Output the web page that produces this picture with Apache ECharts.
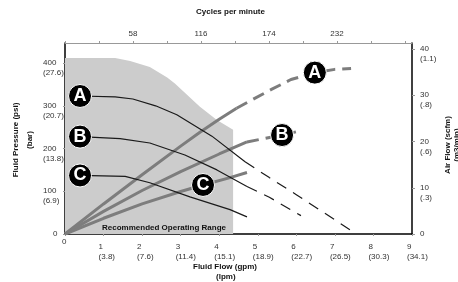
<!DOCTYPE html>
<html><head><meta charset="utf-8">
<script src="https://cdn.jsdelivr.net/npm/echarts@6/dist/echarts.min.js"></script>
<style>html,body{margin:0;padding:0;background:#fff}#c{width:458px;height:282px}</style>
</head><body><div id="c"></div>
<script>
// ---- data ----
const gpmTicks = [0,1,2,3,4,5,6,7,8,9];
const lpmLabels = ['', '(3.8)','(7.6)','(11.4)','(15.1)','(18.9)','(22.7)','(26.5)','(30.3)','(34.1)'];
const psiTicks = [0,100,200,300,400];
const barLabels = ['', '(6.9)','(13.8)','(20.7)','(27.6)'];
const scfmTicks = [0,10,20,30,40];
const m3Labels = ['', '(.3)','(.6)','(.8)','(1.1)'];
const cycleLabels = [58,116,174,232];

// Recommended operating range (gpm, psi)
const rangeArea = [[0,412],[1.30,412],[1.69,405],[2.20,391],[2.65,366],[2.85,352],[3.50,298],[3.94,267],[4.36,244],[4.36,0]];

// Fluid pressure curves (gpm, psi)
const pressA = [[0.39,323],[1.30,321],[1.76,316],[2.35,300],[2.90,279],[3.81,229],[4.67,169]];
const pressAdash = [[4.67,169],[5.3,132],[6.0,92],[6.8,45],[7.55,0]];
const pressB = [[0.39,228],[1.43,223],[2.20,213],[3.11,185],[3.94,150],[4.72,111]];
const pressBdash = [[4.72,111],[5.3,86],[6.12,43]];
const pressC = [[0.39,137],[1.56,135],[2.20,120],[3.24,87],[4.28,57],[4.72,40]];

// Air flow curves (gpm, scfm)
const airA = [[0,0],[1,6.5],[2,12.8],[3,19.0],[3.5,22.0],[4,24.8],[4.45,27.2]];
const airAdash = [[4.45,27.2],[5.34,31.2],[5.86,33.4],[6.48,34.9],[7.0,35.6],[7.42,35.8]];
const airB = [[0,0],[1,4.9],[2,9.4],[3,13.5],[4,17.3],[4.72,19.9]];
const airBdash = [[4.72,19.9],[5.2,20.7],[5.63,21.4],[6.05,22.2]];
const airC = [[0,0],[1,3.4],[2,6.5],[3,9.2],[3.58,10.6],[4.28,12.2],[4.72,13.3]];

// curve badges
const pressMarkers = [[0.39,323,'A'],[0.39,228,'B'],[0.39,137,'C']];
const airMarkers = [[6.48,34.9,'A'],[5.63,21.4,'B'],[3.58,10.6,'C']];

// ---- chart ----
const F = 'Liberation Sans, Arial, sans-serif';
const chart = echarts.init(document.getElementById('c'), null, {renderer:'canvas'});
const blk = '#1a1a1a', gry = '#7d7d7d';
function line(data, y, color, width, dash, z){
  return {type:'line', xAxisIndex:0, yAxisIndex:y, data:data, showSymbol:false, symbol:'none',
    silent:true, z:z, lineStyle:{color:color, width:width, type:dash||'solid', cap:'butt'}};
}
function badges(data, y){
  return {type:'scatter', xAxisIndex:0, yAxisIndex:y, z:10, symbol:'circle', symbolSize:23, silent:true,
    data:data.map(d=>({value:[d[0],d[1]], name:d[2]})),
    itemStyle:{color:'#000', opacity:1, borderColor:'#fff', borderWidth:1},
    label:{show:true, position:'inside', formatter:p=>p.name, color:'#fff', fontFamily:F, fontWeight:'bold', fontSize:18}};
}
const option = {
  animation:false,
  grid:{left:65, right:46, top:43, bottom:48},
  textStyle:{fontFamily:F},
  xAxis:[
    {type:'value', position:'bottom', min:0, max:9, interval:1,
     axisLine:{onZero:false, lineStyle:{color:'#000', width:1.5}},
     axisTick:{show:true, length:2, lineStyle:{color:'#999'}},
     splitLine:{show:false},
     axisLabel:{margin:8, align:'left', color:'#333', fontSize:8, fontFamily:F, lineHeight:10, padding:[0,0,0,-5],
       formatter:v=>{const i=gpmTicks.indexOf(v); if(i<=0) return '{z|0}'; return v+'\n'+lpmLabels[i];},
       rich:{z:{fontSize:8, fontFamily:F, color:'#333', padding:[0,0,10,2]}}}},
    {type:'value', position:'top', min:0, max:296, interval:29,
     axisLine:{onZero:false, lineStyle:{color:'#999', width:1}},
     axisTick:{show:true, length:2, lineStyle:{color:'#999'}},
     splitLine:{show:false},
     axisLabel:{margin:5, color:'#333', fontSize:8, fontFamily:F, showMaxLabel:false,
       formatter:v=>cycleLabels.indexOf(v)>=0 ? String(v) : ''}}
  ],
  yAxis:[
    {type:'value', position:'left', min:0, max:447, interval:100,
     axisLine:{show:true, onZero:false, lineStyle:{color:'#000', width:1.5}},
     axisTick:{show:true, length:2, lineStyle:{color:'#999'}},
     splitLine:{show:false},
     axisLabel:{margin:22, align:'left', color:'#333', fontSize:8, fontFamily:F, lineHeight:10, showMaxLabel:false,
       formatter:v=>{const i=psiTicks.indexOf(v); if(i<0) return ''; if(i===0) return '{z|0}'; return '\n'+v+'\n'+barLabels[i];},
       rich:{z:{fontSize:8, fontFamily:F, color:'#333', padding:[0,0,0,10]}}}},
    {type:'value', position:'right', min:0, max:41.3, interval:10,
     axisLine:{show:true, onZero:false, lineStyle:{color:'#000', width:1.5}},
     axisTick:{show:true, length:3, lineStyle:{color:'#999'}},
     splitLine:{show:false},
     axisLabel:{margin:8, color:'#333', fontSize:8, fontFamily:F, lineHeight:10, showMaxLabel:false,
       formatter:v=>{const i=scfmTicks.indexOf(v); if(i<0) return ''; if(i===0) return '0'; return '\n'+v+'\n'+m3Labels[i];}}}
  ],
  graphic:[
    {type:'text', left:196, top:8, z:20, style:{text:'Cycles per minute', font:'bold 8px '+F, fill:'#111'}},
    {type:'text', left:193, top:263, z:20, style:{text:'Fluid Flow (gpm)', font:'bold 8px '+F, fill:'#111'}},
    {type:'text', left:216, top:273, z:20, style:{text:'(lpm)', font:'bold 8px '+F, fill:'#111'}},
    {type:'text', x:16, y:140, rotation:Math.PI/2, z:20, style:{text:'Fluid Pressure (psi)', font:'bold 8px '+F, fill:'#111', align:'center', verticalAlign:'middle'}},
    {type:'text', x:30, y:140, rotation:Math.PI/2, z:20, style:{text:'(bar)', font:'bold 8px '+F, fill:'#111', align:'center', verticalAlign:'middle'}},
    {type:'text', x:448, y:145, rotation:Math.PI/2, z:20, style:{text:'Air Flow (scfm)', font:'bold 8px '+F, fill:'#111', align:'center', verticalAlign:'middle'}},
    {type:'text', x:457, y:145, rotation:Math.PI/2, z:20, style:{text:'(m3/min)', font:'bold 8px '+F, fill:'#111', align:'center', verticalAlign:'middle'}},
    {type:'text', left:102, top:224, z:20, style:{text:'Recommended Operating Range', font:'bold 8px '+F, fill:'#111'}}
  ],
  series:[
    {type:'line', xAxisIndex:0, yAxisIndex:0, data:rangeArea, showSymbol:false, symbol:'none', silent:true, z:1,
     lineStyle:{width:0}, areaStyle:{color:'#cccccc', opacity:1}},
    line(airA,1,gry,3,'solid',3), line(airAdash,1,gry,3,[12,7],3),
    line(airB,1,gry,3,'solid',3), line(airBdash,1,gry,3,[12,7],3),
    line(airC,1,gry,3,'solid',3),
    line(pressA,0,blk,1.2,'solid',4), line(pressAdash,0,blk,1.2,[11,8],4),
    line(pressB,0,blk,1.2,'solid',4), line(pressBdash,0,blk,1.2,[11,8],4),
    line(pressC,0,blk,1.2,'solid',4),
    badges(pressMarkers,0), badges(airMarkers,1)
  ]
};
chart.setOption(option);
</script></body></html>
